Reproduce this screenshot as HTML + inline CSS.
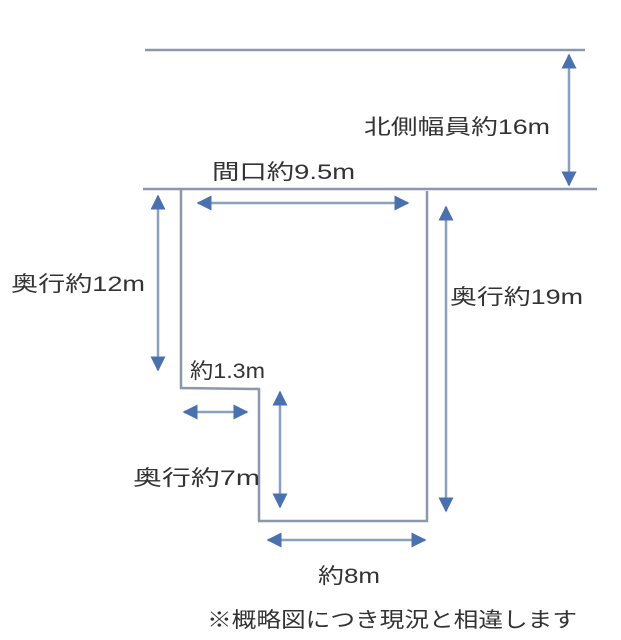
<!DOCTYPE html>
<html><head><meta charset="utf-8"><style>
html,body{margin:0;padding:0;background:#fff;}
svg{display:block}
text{font-family:"Liberation Sans","Noto Sans CJK JP",sans-serif;fill:#333;font-size:21px}
</style></head><body>
<svg width="621" height="640" viewBox="0 0 621 640" xmlns="http://www.w3.org/2000/svg">
<defs>
<marker id="a" viewBox="0 0 10 10" refX="9" refY="5" markerWidth="6" markerHeight="6" orient="auto-start-reverse" markerUnits="strokeWidth">
<path d="M0,0 L10,5 L0,10 Z" fill="#4a70b0"/></marker>
</defs>
<g stroke="#8a98ae" stroke-width="2.5" fill="none">
<line x1="145" y1="50" x2="585" y2="50"/>
<line x1="143" y1="189" x2="597" y2="189"/>
<polyline points="181,189 181,388 259,389 259,521 427,521 427,191"/>
</g>
<g stroke="#8aa0c0" stroke-width="2.5" marker-start="url(#a)" marker-end="url(#a)">
<line x1="569" y1="55" x2="569" y2="185"/>
<line x1="198" y1="203" x2="408" y2="203"/>
<line x1="158" y1="196" x2="158" y2="370"/>
<line x1="184" y1="412" x2="247" y2="412"/>
<line x1="280" y1="392" x2="280" y2="507"/>
<line x1="446" y1="207" x2="446" y2="511"/>
<line x1="268" y1="540" x2="425" y2="540"/>
</g>
<g lengthAdjust="spacingAndGlyphs">
<text x="364" y="134" textLength="186" lengthAdjust="spacingAndGlyphs">北側幅員約16m</text>
<text x="212" y="179" textLength="143" lengthAdjust="spacingAndGlyphs">間口約9.5m</text>
<text x="11" y="291" textLength="134" lengthAdjust="spacingAndGlyphs">奥行約12m</text>
<text x="450" y="304" textLength="133" lengthAdjust="spacingAndGlyphs">奥行約19m</text>
<text x="190" y="378" font-size="18" textLength="75" lengthAdjust="spacingAndGlyphs">約1.3m</text>
<text x="133" y="485" textLength="127" lengthAdjust="spacingAndGlyphs">奥行約7m</text>
<text x="318" y="583" textLength="62" lengthAdjust="spacingAndGlyphs">約8m</text>
<text x="207" y="627" font-size="21" textLength="370" lengthAdjust="spacingAndGlyphs">※概略図につき現況と相違します</text>
</g>
</svg>
</body></html>
